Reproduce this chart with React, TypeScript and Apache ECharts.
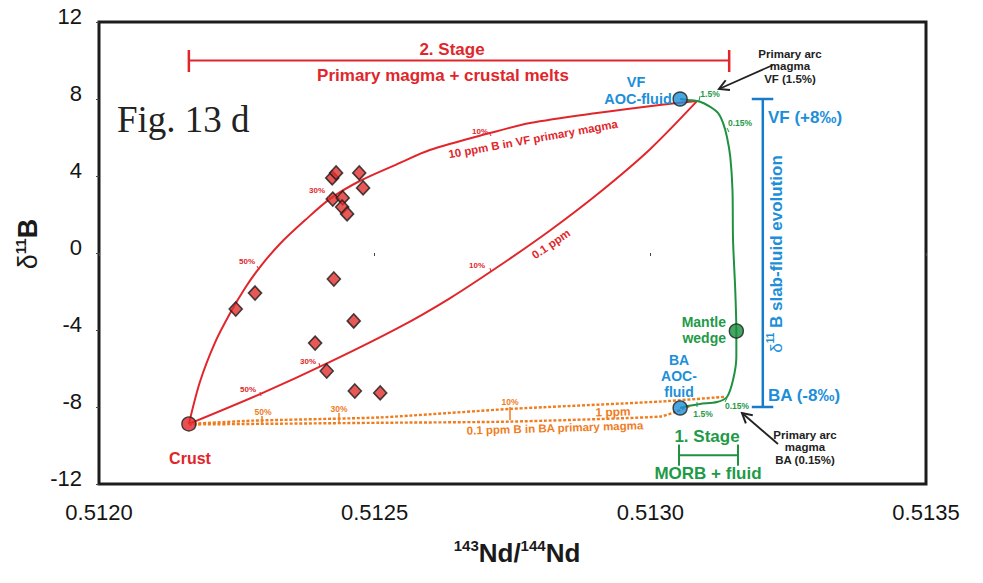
import React, { useEffect, useRef } from 'react';
import * as echarts from 'echarts';

// ---------- data ----------
const diamondX = [0.512423, 0.51243, 0.512472, 0.512479, 0.512424, 0.512442, 0.512441, 0.51245, 0.512248, 0.512283, 0.512392, 0.512413, 0.512426, 0.512462, 0.512464, 0.51251];
const diamondY = [3.9, 4.16, 4.16, 3.38, 2.8, 2.86, 2.39, 2.03, -2.91, -2.08, -4.68, -6.13, -1.35, -3.53, -7.17, -7.27];

const endNames = ['Crust', 'VF AOC-fluid', 'BA AOC-fluid', 'Mantle wedge'];
const endX = [0.512163, 0.513054, 0.513054, 0.513156];
const endY = [-8.88, 8.0, -8.05, -4.05];

// 10 ppm B in VF primary magma (crust -> VF primary arc magma)
const vf10X = [0.512163, 0.512183, 0.51221, 0.512238, 0.512265, 0.512292, 0.512328, 0.512374, 0.512419, 0.512473, 0.512546, 0.5126, 0.512709, 0.512782, 0.512903, 0.513017, 0.513085];
const vf10Y = [-8.88, -6.7, -4.68, -3.12, -1.82, -0.73, 0.47, 1.71, 2.81, 3.74, 4.68, 5.35, 6.23, 6.75, 7.27, 7.69, 7.9];

// 0.1 ppm (crust -> VF primary arc magma)
const vf01X = [0.512163, 0.512297, 0.512419, 0.512546, 0.512637, 0.512727, 0.512818, 0.512909, 0.512999, 0.513085];
const vf01Y = [-8.88, -7.27, -5.66, -3.84, -2.34, -0.65, 1.17, 3.17, 5.38, 7.9];

// MORB + fluid (VF AOC-fluid -> mantle wedge -> BA AOC-fluid)
const morbX = [0.513054, 0.513068, 0.51309, 0.513108, 0.513123, 0.513132, 0.513139, 0.513145, 0.513149, 0.51315, 0.513154, 0.513156, 0.513156, 0.51315, 0.513139, 0.513121, 0.51309, 0.513068, 0.513054];
const morbY = [8.0, 7.95, 7.86, 7.6, 7.27, 6.75, 6.03, 4.99, 3.27, 0.68, -1.92, -4.05, -5.4, -6.6, -7.48, -7.74, -7.84, -7.95, -8.05];

// 1 ppm (crust -> BA primary arc magma 0.15%)
const ba1X = [0.512163, 0.512279, 0.51251, 0.512745, 0.513017, 0.513135];
const ba1Y = [-8.88, -8.71, -8.54, -8.1, -7.72, -7.47];

// 0.1 ppm B in BA primary magma (crust -> BA primary arc magma 1.5%)
const ba01X = [0.512163, 0.51251, 0.512745, 0.513017, 0.513045, 0.513072];
const ba01Y = [-8.91, -8.82, -8.76, -8.5, -8.26, -7.95];

// stage brackets and slab-fluid range
const stage2X = [0.512163, 0.513143];
const stage2Y = 10;
const stage1X = [0.513052, 0.513159];
const stage1Y = -10.5;
const slabX = 0.513204;
const slabY = [-8, 8];

// ---------- style ----------
const F = "'Liberation Sans', Arial, Helvetica, sans-serif";
const RED = '#E1262B';
const BLUE = '#1D8FD9';
const BLUEBAR = '#1A7CC8';
const GREEN = '#1E9A48';
const GREENLINE = '#1F9140';
const ORANGE = '#EF7D1E';
const DARK = '#222222';

function zip(xs: number[], ys: number[]) {
  return xs.map((x, i) => [x, ys[i]]);
}

function txt(x: number, y: number, text: string, size: number, color: string, opts: any = {}) {
  const align = opts.align || 'center';
  return {
    type: 'text',
    x,
    y,
    rotation: opts.rotation || 0,
    z: 100,
    style: {
      text,
      fill: color,
      font: `${opts.weight || 'bold'} ${size}px ${opts.family || F}`,
      textAlign: align,
      align,
      textVerticalAlign: 'middle',
      verticalAlign: 'middle',
      lineHeight: opts.lineHeight,
      rich: opts.rich,
    },
  };
}

function seg(x1: number, y1: number, x2: number, y2: number, color: string, w = 1) {
  return { type: 'line', z: 100, shape: { x1, y1, x2, y2 }, style: { stroke: color, lineWidth: w } };
}

function arrow(x1: number, y1: number, x2: number, y2: number) {
  const dx = x2 - x1;
  const dy = y2 - y1;
  const L = Math.sqrt(dx * dx + dy * dy);
  const ux = dx / L;
  const uy = dy / L;
  const h = 11;
  const a = 0.5;
  const p1 = [x2 - h * (ux * Math.cos(a) - uy * Math.sin(a)), y2 - h * (uy * Math.cos(a) + ux * Math.sin(a))];
  const p2 = [x2 - h * (ux * Math.cos(-a) - uy * Math.sin(-a)), y2 - h * (uy * Math.cos(-a) + ux * Math.sin(-a))];
  return [
    seg(x1, y1, x2, y2, DARK, 1.8),
    { type: 'polyline', z: 100, shape: { points: [p1, [x2, y2], p2] }, style: { stroke: DARK, lineWidth: 2, fill: null } },
  ];
}

function lineSeries(data: number[][], color: string, width: number, dash?: any, z = 3) {
  return {
    type: 'line',
    data,
    symbol: 'none',
    smooth: dash ? 0.2 : 0.3,
    z,
    silent: true,
    lineStyle: { color, width, type: dash || 'solid', cap: 'butt' },
  };
}

export default function App() {
  const ref = useRef<HTMLDivElement>(null);
  useEffect(() => {
    if (!ref.current) return;
    const chart = echarts.init(ref.current, null, { renderer: 'svg' });

    const endColors = [RED, BLUE, BLUE, '#17903C'];

    const series: any[] = [
      lineSeries(zip(vf10X, vf10Y), RED, 2),
      lineSeries(zip(vf01X, vf01Y), RED, 2),
      lineSeries(zip(ba1X, ba1Y), ORANGE, 2.4, [3, 1.8]),
      lineSeries(zip(ba01X, ba01Y), ORANGE, 2.4, [3, 1.8]),
      lineSeries(zip(morbX, morbY), GREENLINE, 2),
      // stage 2 bracket
      { type: 'line', data: [[stage2X[0], stage2Y], [stage2X[1], stage2Y]], symbol: 'none', lineStyle: { color: RED, width: 2 }, z: 3 },
      { type: 'line', data: [[stage2X[0], stage2Y - 0.6], [stage2X[0], stage2Y + 0.55]], symbol: 'none', lineStyle: { color: RED, width: 2.5 }, z: 3 },
      { type: 'line', data: [[stage2X[1], stage2Y - 0.6], [stage2X[1], stage2Y + 0.55]], symbol: 'none', lineStyle: { color: RED, width: 2.5 }, z: 3 },
      // stage 1 bracket
      { type: 'line', data: [[stage1X[0], stage1Y], [stage1X[1], stage1Y]], symbol: 'none', lineStyle: { color: GREENLINE, width: 2 }, z: 3 },
      { type: 'line', data: [[stage1X[0], stage1Y + 0.55], [stage1X[0], stage1Y - 0.55]], symbol: 'none', lineStyle: { color: GREENLINE, width: 2 }, z: 3 },
      { type: 'line', data: [[stage1X[1], stage1Y + 0.55], [stage1X[1], stage1Y - 0.55]], symbol: 'none', lineStyle: { color: GREENLINE, width: 2 }, z: 3 },
      // slab-fluid range bar
      { type: 'line', data: [[slabX, slabY[0]], [slabX, slabY[1]]], symbol: 'none', lineStyle: { color: BLUEBAR, width: 2.5 }, z: 3 },
      { type: 'line', data: [[slabX - 0.00002, slabY[1]], [slabX + 0.000019, slabY[1]]], symbol: 'none', lineStyle: { color: BLUEBAR, width: 2.5 }, z: 3 },
      { type: 'line', data: [[slabX - 0.00002, slabY[0]], [slabX + 0.000019, slabY[0]]], symbol: 'none', lineStyle: { color: BLUEBAR, width: 2.5 }, z: 3 },
      // samples
      {
        type: 'scatter',
        data: zip(diamondX, diamondY),
        symbol: 'diamond',
        symbolSize: [13, 14],
        z: 10,
        itemStyle: { color: '#E0302C', borderColor: '#1a1a1a', borderWidth: 1.6 },
      },
      // end-members
      {
        type: 'scatter',
        data: endX.map((x, i) => ({ name: endNames[i], value: [x, endY[i]], itemStyle: { color: endColors[i] } })),
        symbol: 'circle',
        symbolSize: 14,
        z: 11,
        itemStyle: { borderColor: '#1a1a1a', borderWidth: 1.4 },
      },
    ];

    const graphic: any[] = [
      // stage 2 texts
      txt(452, 49, '2. Stage', 17, RED),
      txt(443, 75, 'Primary magma + crustal melts', 17, RED),
      txt(117, 119, 'Fig. 13 d', 37, DARK, { align: 'left', weight: 'normal', family: "'Liberation Serif', 'Times New Roman', serif" }),
      // VF AOC
      txt(636, 82, 'VF', 14.5, BLUE),
      txt(638, 99, 'AOC-fluid', 14.5, BLUE),
      txt(790, 66, 'Primary arc\nmagma\nVF (1.5%)', 11.5, DARK, { lineHeight: 12.5 }),
      ...arrow(773, 65, 719, 89),
      // slab fluid
      txt(768, 117, 'VF (+8‰)', 17, BLUE, { align: 'left' }),
      txt(768, 395, 'BA (-8‰)', 17, BLUE, { align: 'left' }),
      txt(776, 254, '{d|δ}{s|11}{b| B slab-fluid evolution}', 17, BLUE, {
        rotation: Math.PI / 2,
        rich: {
          d: { font: `normal 17px ${F}`, fill: BLUE, lineHeight: 22 },
          s: { font: `bold 10px ${F}`, fill: BLUE, verticalAlign: 'top', lineHeight: 12 },
          b: { font: `bold 17px ${F}`, fill: BLUE, lineHeight: 22 },
        },
      }),
      // mantle wedge / BA AOC
      txt(726, 330, 'Mantle\nwedge', 14, GREEN, { align: 'right', lineHeight: 16 }),
      txt(679, 376, 'BA\nAOC-\nfluid', 14, BLUE, { lineHeight: 16 }),
      // stage 1
      txt(707, 436, '1. Stage', 17, GREEN),
      txt(708, 473, 'MORB + fluid', 17, GREEN),
      txt(805, 447, 'Primary arc\nmagma\nBA (0.15%)', 11.5, DARK, { lineHeight: 12.5 }),
      ...arrow(778, 444, 742, 413),
      // crust
      txt(190, 458, 'Crust', 16, RED),
      // curve labels
      txt(533, 139, '10 ppm B in VF primary magma', 11.5, RED, { rotation: 0.18 }),
      txt(551, 244, '0.1 ppm', 11.5, RED, { rotation: 0.6 }),
      txt(480, 131, '10%', 8, RED),
      txt(317, 190, '30%', 8, RED),
      txt(247, 261, '50%', 8, RED),
      txt(477, 265, '10%', 8, RED),
      txt(308, 361, '30%', 8, RED),
      txt(248, 389, '50%', 8, RED),
      seg(489, 132, 491, 136, RED),
      seg(328, 196, 330, 200, RED),
      seg(257, 266, 259, 270, RED),
      seg(490, 268, 491, 272, RED),
      seg(319, 363, 320, 367, RED),
      seg(260, 392, 261, 396, RED),
      // orange labels
      txt(263, 412, '50%', 8.5, ORANGE),
      txt(339, 409, '30%', 8.5, ORANGE),
      txt(510, 402, '10%', 8.5, ORANGE),
      txt(613, 412, '1 ppm', 12, ORANGE, { rotation: 0.03 }),
      txt(555, 428, '0.1 ppm B in BA primary magma', 11.5, ORANGE, { rotation: 0.03 }),
      seg(262, 416, 262, 424, ORANGE, 1.5),
      seg(339, 413, 339, 424, ORANGE, 1.5),
      seg(510, 407, 510, 420, ORANGE, 1.5),
      // green labels
      txt(710, 94, '1.5%', 8.5, GREEN),
      txt(740, 123, '0.15%', 8.5, GREEN),
      txt(703, 414, '1.5%', 8.5, GREEN),
      txt(737, 406, '0.15%', 8.5, GREEN),
      seg(700, 96, 699, 101, GREEN),
      seg(727, 128, 729, 132, GREEN),
      seg(697, 402, 697, 407, GREEN),
      seg(727, 398, 725, 402, GREEN),
      // axis titles
      txt(517, 553, '{s|143}{b|Nd/}{s|144}{b|Nd}', 26, '#1a1a1a', {
        rich: {
          s: { font: `bold 15px ${F}`, fill: '#1a1a1a', verticalAlign: 'top', lineHeight: 16 },
          b: { font: `bold 26px ${F}`, fill: '#1a1a1a', lineHeight: 30 },
        },
      }),
      txt(28, 244, '{d|δ}{s|11}{b|B}', 26, '#1a1a1a', {
        rotation: Math.PI / 2,
        rich: {
          d: { font: `normal 27px ${F}`, fill: '#1a1a1a', lineHeight: 30 },
          s: { font: `bold 15px ${F}`, fill: '#1a1a1a', verticalAlign: 'top', lineHeight: 16 },
          b: { font: `bold 27px ${F}`, fill: '#1a1a1a', lineHeight: 30 },
        },
      }),
    ];

    chart.setOption({
      animation: false,
      backgroundColor: '#ffffff',
      grid: { left: 99, top: 22, right: 57, bottom: 99, show: true, borderColor: '#1c1c1c', borderWidth: 3, backgroundColor: 'transparent' },
      xAxis: {
        type: 'value',
        min: 0.512,
        max: 0.5135,
        interval: 0.0005,
        axisLine: { show: false },
        axisTick: { show: true, length: 3, lineStyle: { color: '#444', width: 1 } },
        splitLine: { show: false },
        axisLabel: { formatter: (v: number) => v.toFixed(4), fontSize: 22, color: '#151515', fontFamily: F, margin: 17 },
      },
      yAxis: {
        type: 'value',
        min: -12,
        max: 12,
        interval: 4,
        axisLine: { show: false },
        axisTick: { show: true, length: 3, lineStyle: { color: '#444', width: 1 } },
        splitLine: { show: false },
        axisLabel: { fontSize: 22, color: '#151515', fontFamily: F, margin: 17, verticalAlign: 'bottom', lineHeight: 12 },
      },
      series,
      graphic,
    });

    return () => chart.dispose();
  }, []);

  return <div ref={ref} style={{ position: 'fixed', left: 0, top: 0, width: 983, height: 583, background: '#fff' }} />;
}
